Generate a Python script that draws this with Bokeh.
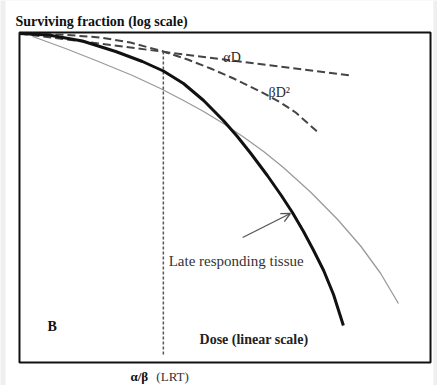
from bokeh.plotting import figure
from bokeh.models import Range1d, Label, Arrow, OpenHead
from bokeh.embed import file_html
from bokeh.resources import INLINE

# --- data (dose in arbitrary units, log10 surviving fraction) ---
lrt_dose = [0.00, 0.71, 1.53, 2.34, 2.99, 3.50, 3.99, 4.48, 4.96, 5.30, 5.62, 6.03,
            6.37, 6.64, 6.91, 7.15, 7.40, 7.64, 7.88]
lrt_logsf = [-0.02, -0.05, -0.17, -0.38, -0.58, -0.77, -1.02, -1.36, -1.76, -2.08, -2.41, -2.86,
             -3.26, -3.60, -3.98, -4.35, -4.76, -5.24, -5.86]

early_dose = [0.32, 1.12, 1.92, 2.75, 3.43, 3.99, 4.48, 4.96, 5.45, 5.94, 6.42, 7.08,
              7.74, 8.30, 8.78, 9.22]
early_logsf = [-0.08, -0.32, -0.58, -0.86, -1.12, -1.36, -1.58, -1.82, -2.09, -2.38, -2.70, -3.19,
               -3.74, -4.27, -4.81, -5.42]

alpha_dose = [0.0, 8.05]
alpha_logsf = [-0.02, -0.86]

beta_dose = [0.0, 1.00, 1.97, 2.70, 3.50, 4.09, 4.65, 5.21, 5.86, 6.35, 6.72, 7.27]
beta_logsf = [-0.02, -0.04, -0.10, -0.20, -0.38, -0.54, -0.72, -0.92, -1.18, -1.40, -1.60, -2.00]

alpha_beta = 3.50          # alpha/beta ratio (LRT), where alphaD == betaD^2
ab_line_logsf = [-0.38, -6.48]

arrow_tail = (5.43, -4.10)
arrow_head = (6.59, -3.62)

# plotting box (dose axis 0..10, log SF 0..-6.6)
dose_lim = (0.0, 10.0)
logsf_lim = (-6.6, 0.0)

FONT = "Liberation Serif"

p = figure(width=437, height=385,
           x_range=Range1d(-0.462, 10.170), y_range=Range1d(-7.06, 0.64),
           output_backend="svg", toolbar_location=None,
           x_axis_type=None, y_axis_type=None,
           min_border_left=0, min_border_right=0,
           min_border_top=0, min_border_bottom=0)
p.grid.visible = False
p.outline_line_color = None
p.background_fill_color = "#efefef"
p.border_fill_color = "#efefef"

# white sheet
p.quad(left=-0.34, right=10.07, bottom=-7.06, top=0.64, fill_color="white", line_color=None)
# frame box
p.quad(left=dose_lim[0], right=dose_lim[1], bottom=logsf_lim[0], top=logsf_lim[1],
       fill_color=None, line_color="#111111", line_width=2)

# curves
p.line(early_dose, early_logsf, line_color="#9a9a9a", line_width=1.3, line_join="round")
p.line(alpha_dose, alpha_logsf, line_color="#444444", line_width=2, line_dash="8 4")
p.line(beta_dose, beta_logsf, line_color="#444444", line_width=2, line_dash="8 4", line_join="round")
p.line([alpha_beta, alpha_beta], ab_line_logsf, line_color="#555555", line_width=1.5, line_dash="3 2")
p.line(lrt_dose, lrt_logsf, line_color="#111111", line_width=3, line_join="round")

p.add_layout(Arrow(end=OpenHead(size=9, line_color="#555555", line_width=1.3),
                   x_start=arrow_tail[0], y_start=arrow_tail[1],
                   x_end=arrow_head[0], y_end=arrow_head[1],
                   line_color="#555555", line_width=1.3))

def lab(x, y, text, size="14px", style="normal", color="#222222"):
    p.add_layout(Label(x=x, y=y, text=text, text_font=FONT, text_font_size=size,
                       text_font_style=style, text_color=color,
                       text_baseline="alphabetic", text_align="left"))

lab(-0.10, 0.22, "Surviving fraction (log scale)", "14px", "bold", "#111111")
lab(4.96, -0.50, "αD", "14px", "normal", "#2a2a2a")
lab(6.06, -1.19, "βD²", "14px", "normal", "#2a2a2a")
lab(3.63, -4.56, "Late responding tissue", "15px", "normal", "#333333")
lab(0.68, -5.88, "B", "14px", "bold", "#111111")
lab(4.38, -6.14, "Dose (linear scale)", "14px", "bold", "#222222")
lab(2.70, -6.88, "α/β", "13px", "bold", "#111111")
lab(3.33, -6.88, "(LRT)", "13px", "normal", "#333333")

open("out.html", "w").write(file_html(p, INLINE))
